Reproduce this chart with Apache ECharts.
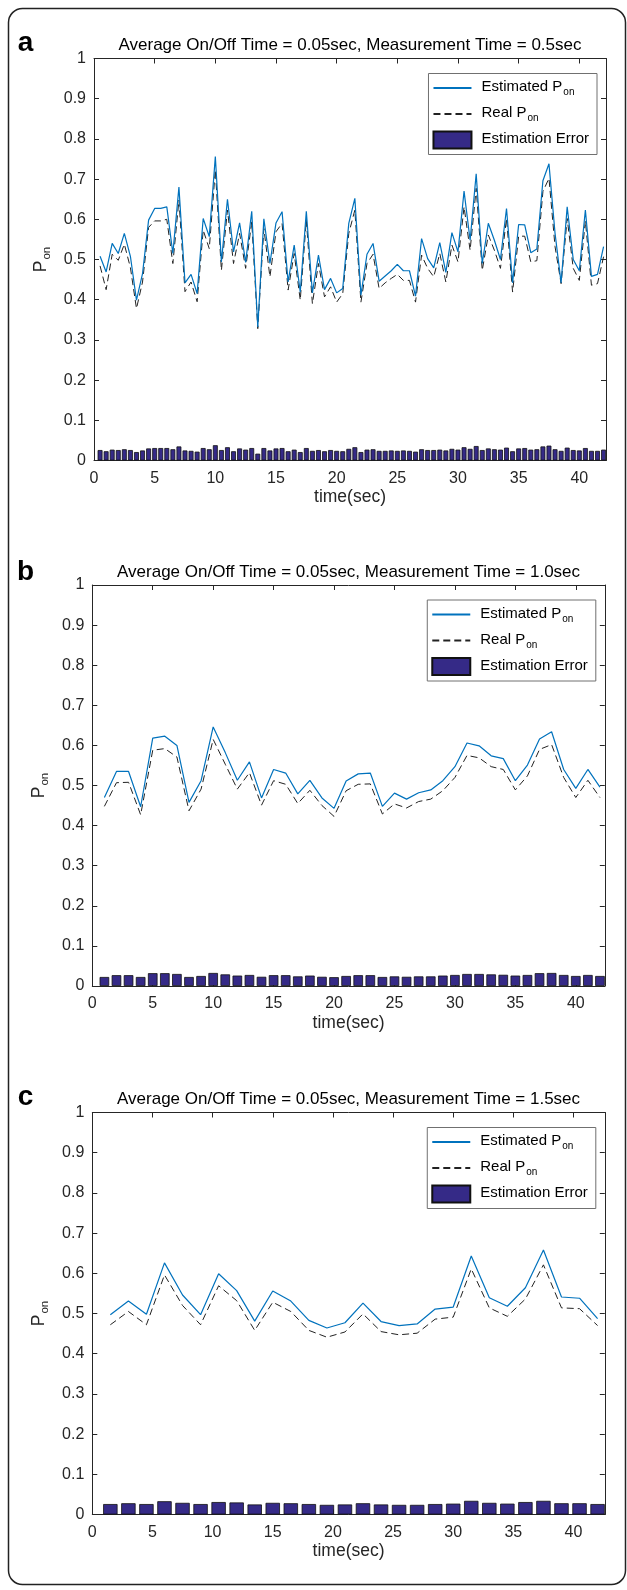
<!DOCTYPE html>
<html>
<head>
<meta charset="utf-8">
<script src="https://cdn.jsdelivr.net/npm/echarts@6/dist/echarts.min.js"></script>
<style>
html, body { margin: 0; padding: 0; background: #fff; }
#chart { width: 627px; height: 1590px; }
</style>
</head>
<body>
<div id="chart"></div>
<script>
// ---- data ----
// panel a : measurement time 0.5 sec
var timeA = [0.5, 1, 1.5, 2, 2.5, 3, 3.5, 4, 4.5, 5, 5.5, 6, 6.5, 7, 7.5, 8, 8.5, 9, 9.5, 10,
    10.5, 11, 11.5, 12, 12.5, 13, 13.5, 14, 14.5, 15, 15.5, 16, 16.5, 17, 17.5, 18, 18.5, 19, 19.5, 20,
    20.5, 21, 21.5, 22, 22.5, 23, 23.5, 24, 24.5, 25, 25.5, 26, 26.5, 27, 27.5, 28, 28.5, 29, 29.5, 30,
    30.5, 31, 31.5, 32, 32.5, 33, 33.5, 34, 34.5, 35, 35.5, 36, 36.5, 37, 37.5, 38, 38.5, 39, 39.5, 40,
    40.5, 41, 41.5, 42];
var estA = [0.508, 0.469, 0.540, 0.515, 0.565, 0.508, 0.399, 0.465, 0.598, 0.627,
    0.627, 0.631, 0.515, 0.680, 0.442, 0.463, 0.415, 0.602, 0.557, 0.756,
    0.494, 0.650, 0.519, 0.591, 0.493, 0.620, 0.332, 0.601, 0.490, 0.591,
    0.619, 0.444, 0.536, 0.419, 0.620, 0.417, 0.511, 0.425, 0.453, 0.417,
    0.428, 0.590, 0.652, 0.411, 0.513, 0.540, 0.446, 0.459, 0.472, 0.488,
    0.472, 0.472, 0.409, 0.552, 0.502, 0.479, 0.542, 0.468, 0.567, 0.519,
    0.670, 0.548, 0.713, 0.490, 0.590, 0.548, 0.500, 0.627, 0.442, 0.587,
    0.586, 0.517, 0.526, 0.696, 0.738, 0.565, 0.442, 0.631, 0.500, 0.472,
    0.623, 0.458, 0.463, 0.532];
var realA = [0.484, 0.425, 0.513, 0.498, 0.538, 0.480, 0.378, 0.444, 0.580, 0.596,
    0.596, 0.600, 0.490, 0.648, 0.420, 0.444, 0.395, 0.573, 0.527, 0.723,
    0.473, 0.623, 0.490, 0.565, 0.478, 0.594, 0.328, 0.577, 0.457, 0.569,
    0.590, 0.424, 0.515, 0.399, 0.598, 0.390, 0.490, 0.407, 0.432, 0.394,
    0.415, 0.565, 0.623, 0.394, 0.490, 0.513, 0.428, 0.442, 0.453, 0.463,
    0.448, 0.448, 0.394, 0.511, 0.478, 0.457, 0.515, 0.444, 0.536, 0.494,
    0.631, 0.523, 0.677, 0.473, 0.561, 0.523, 0.478, 0.602, 0.419, 0.558,
    0.558, 0.494, 0.497, 0.669, 0.702, 0.532, 0.440, 0.602, 0.478, 0.448,
    0.596, 0.436, 0.440, 0.507];
var errA = [0.026, 0.023, 0.027, 0.026, 0.028, 0.026, 0.021, 0.025, 0.030, 0.031,
    0.031, 0.031, 0.028, 0.035, 0.025, 0.024, 0.022, 0.031, 0.028, 0.038,
    0.026, 0.033, 0.023, 0.030, 0.027, 0.031, 0.017, 0.031, 0.025, 0.030,
    0.031, 0.023, 0.027, 0.021, 0.031, 0.024, 0.026, 0.023, 0.026, 0.024,
    0.023, 0.029, 0.033, 0.021, 0.027, 0.028, 0.024, 0.024, 0.025, 0.024,
    0.025, 0.024, 0.022, 0.028, 0.026, 0.026, 0.027, 0.025, 0.029, 0.027,
    0.033, 0.029, 0.036, 0.026, 0.030, 0.028, 0.027, 0.032, 0.023, 0.030,
    0.031, 0.027, 0.028, 0.035, 0.037, 0.028, 0.024, 0.032, 0.026, 0.025,
    0.031, 0.024, 0.024, 0.027];

// panel b : measurement time 1.0 sec
var timeB = [1, 2, 3, 4, 5, 6, 7, 8, 9, 10, 11, 12, 13, 14, 15, 16, 17, 18, 19, 20, 21,
    22, 23, 24, 25, 26, 27, 28, 29, 30, 31, 32, 33, 34, 35, 36, 37, 38, 39, 40, 41, 42];
var estB = [0.470, 0.535, 0.535, 0.447, 0.618, 0.623, 0.600, 0.458, 0.512, 0.646,
    0.582, 0.513, 0.559, 0.469, 0.540, 0.531, 0.479, 0.513, 0.469, 0.443,
    0.511, 0.529, 0.531, 0.448, 0.481, 0.466, 0.482, 0.489, 0.512, 0.547,
    0.606, 0.599, 0.574, 0.567, 0.512, 0.551, 0.616, 0.634, 0.540, 0.493,
    0.540, 0.496];
var realB = [0.448, 0.507, 0.508, 0.427, 0.588, 0.592, 0.571, 0.437, 0.491, 0.615,
    0.553, 0.491, 0.532, 0.451, 0.512, 0.503, 0.455, 0.488, 0.450, 0.423,
    0.487, 0.503, 0.504, 0.429, 0.454, 0.444, 0.460, 0.466, 0.487, 0.520,
    0.575, 0.569, 0.547, 0.540, 0.489, 0.524, 0.590, 0.602, 0.520, 0.470,
    0.513, 0.470];
var errB = [0.0225, 0.027, 0.027, 0.0225, 0.032, 0.032, 0.030, 0.0225, 0.025, 0.0325,
    0.029, 0.026, 0.0275, 0.023, 0.027, 0.027, 0.024, 0.026, 0.023, 0.022,
    0.025, 0.027, 0.027, 0.0225, 0.024, 0.023, 0.024, 0.024, 0.026, 0.0275,
    0.030, 0.030, 0.029, 0.028, 0.026, 0.0275, 0.032, 0.0325, 0.0275, 0.025,
    0.0275, 0.025];

// panel c : measurement time 1.5 sec
var timeC = [1.5, 3, 4.5, 6, 7.5, 9, 10.5, 12, 13.5, 15, 16.5, 18, 19.5, 21,
    22.5, 24, 25.5, 27, 28.5, 30, 31.5, 33, 34.5, 36, 37.5, 39, 40.5, 42];
var estC = [0.497, 0.531, 0.498, 0.626, 0.546, 0.497, 0.599, 0.557, 0.481, 0.556, 0.531, 0.483, 0.464, 0.477,
    0.526, 0.480, 0.470, 0.474, 0.511, 0.516, 0.643, 0.539, 0.518, 0.564, 0.658, 0.541, 0.538, 0.487];
var realC = [0.472, 0.505, 0.472, 0.596, 0.520, 0.472, 0.569, 0.532, 0.458, 0.528, 0.505, 0.458, 0.441, 0.454,
    0.499, 0.455, 0.447, 0.451, 0.486, 0.491, 0.611, 0.514, 0.493, 0.536, 0.621, 0.514, 0.512, 0.470];
var errC = [0.026, 0.028, 0.026, 0.033, 0.029, 0.026, 0.031, 0.030, 0.025, 0.029, 0.028, 0.026, 0.024, 0.025,
    0.028, 0.025, 0.024, 0.024, 0.026, 0.027, 0.034, 0.029, 0.027, 0.031, 0.034, 0.028, 0.028, 0.026];

var xTicks = [0, 5, 10, 15, 20, 25, 30, 35, 40];
var titles = [
    'Average On/Off Time = 0.05sec, Measurement Time = 0.5sec',
    'Average On/Off Time = 0.05sec, Measurement Time = 1.0sec',
    'Average On/Off Time = 0.05sec, Measurement Time = 1.5sec'
];
var letters = ['a', 'b', 'c'];

// ---- layout / style ----
var FONT = '"Liberation Sans", Arial, Helvetica, sans-serif';
var AXIS = '#262626';
var BLUE = '#0072BD';
var NAVY = '#352a87';

var panels = [
    {time: timeA, est: estA, real: realA, err: errA, left: 94, top: 58.5, width: 512, height: 402, xMax: 42.2, barWidth: 4.9},
    {time: timeB, est: estB, real: realB, err: errB, left: 92.3, top: 585, width: 512.5, height: 401, xMax: 42.4, barWidth: 9.6},
    {time: timeC, est: estC, real: realC, err: errC, left: 92.3, top: 1112.5, width: 512.5, height: 402, xMax: 42.6, barWidth: 14.4}
];

var subRich = {
    m: {fontSize: 15, fontFamily: FONT, color: '#000', lineHeight: 17, verticalAlign: 'top', padding: [0, 0, 0, 5]},
    s: {fontSize: 10, fontFamily: FONT, color: '#000', lineHeight: 12, padding: [9, 0, 0, 1]}
};
var ylabRich = {
    m: {fontSize: 17.5, fontFamily: FONT, color: AXIS, lineHeight: 20, verticalAlign: 'top'},
    s: {fontSize: 11.5, fontFamily: FONT, color: AXIS, lineHeight: 13, padding: [10, 0, 0, 1]}
};

function pairs(t, v) {
    var out = [];
    for (var i = 0; i < t.length; i++) out.push([t[i], v[i]]);
    return out;
}

function legend_text(name) {
    if (name === 'Estimated') return '{m|Estimated P}{s|on}';
    if (name === 'Real') return '{m|Real P}{s|on}';
    return '{m|Estimation Error}';
}

var grids = [], xAxes = [], yAxes = [], series = [], legends = [], graphics = [];

graphics.push({
    type: 'rect',
    shape: {x: 8.5, y: 8.5, width: 617, height: 1576, r: 14},
    style: {fill: 'none', stroke: '#222', lineWidth: 1.5},
    silent: true
});

for (var i = 0; i < panels.length; i++) {
    var p = panels[i];
    grids.push({left: p.left, top: p.top, width: p.width, height: p.height, containLabel: false});

    // bottom axis with labels
    xAxes.push({
        gridIndex: i, type: 'value', position: 'bottom', min: 0, max: p.xMax,
        name: 'time(sec)', nameLocation: 'middle', nameGap: 28,
        nameTextStyle: {fontSize: 17.5, fontFamily: FONT, color: AXIS},
        axisLine: {show: true, onZero: false, lineStyle: {color: AXIS, width: 1}},
        axisTick: {show: true, inside: true, length: 5, customValues: xTicks, lineStyle: {color: AXIS}},
        axisLabel: {customValues: xTicks, fontSize: 16, fontFamily: FONT, color: AXIS, margin: 10},
        splitLine: {show: false}
    });
    // top axis: closes the box, ticks only
    xAxes.push({
        gridIndex: i, type: 'value', position: 'top', min: 0, max: p.xMax,
        axisLine: {show: true, onZero: false, lineStyle: {color: AXIS, width: 1}},
        axisTick: {show: true, inside: true, length: 5, customValues: xTicks, lineStyle: {color: AXIS}},
        axisLabel: {show: false},
        splitLine: {show: false}
    });
    yAxes.push({
        gridIndex: i, type: 'value', position: 'left', min: 0, max: 1, interval: 0.1,
        name: '{m|P}{s|on}', nameLocation: 'middle', nameGap: 35, nameRotate: 90,
        nameTextStyle: {rich: ylabRich},
        axisLine: {show: true, onZero: false, lineStyle: {color: AXIS, width: 1}},
        axisTick: {show: true, inside: true, length: 5, lineStyle: {color: AXIS}},
        axisLabel: {fontSize: 16, fontFamily: FONT, color: AXIS, margin: 8},
        splitLine: {show: false}
    });
    yAxes.push({
        gridIndex: i, type: 'value', position: 'right', min: 0, max: 1, interval: 0.1,
        axisLine: {show: true, onZero: false, lineStyle: {color: AXIS, width: 1}},
        axisTick: {show: true, inside: true, length: 5, lineStyle: {color: AXIS}},
        axisLabel: {show: false},
        splitLine: {show: false}
    });

    series.push({
        name: 'Estimation Error', type: 'bar', xAxisIndex: 2 * i, yAxisIndex: 2 * i,
        data: pairs(p.time, p.err), barWidth: p.barWidth,
        itemStyle: {color: NAVY, borderColor: '#111', borderWidth: 0.8}, z: 1
    });
    series.push({
        name: 'Real', type: 'line', xAxisIndex: 2 * i, yAxisIndex: 2 * i,
        data: pairs(p.time, p.real), symbol: 'none',
        lineStyle: {color: '#222', width: 1, type: [7, 4]}, itemStyle: {color: '#222'}, z: 2
    });
    series.push({
        name: 'Estimated', type: 'line', xAxisIndex: 2 * i, yAxisIndex: 2 * i,
        data: pairs(p.time, p.est), symbol: 'none',
        lineStyle: {color: BLUE, width: 1.2}, itemStyle: {color: BLUE}, z: 3
    });

    legends.push({
        data: [
            {name: 'Estimated', itemStyle: {opacity: 0}},
            {name: 'Real', itemStyle: {opacity: 0}},
            {name: 'Estimation Error', icon: 'rect'}
        ],
        orient: 'vertical',
        right: 627 - (p.left + p.width) + 9,
        top: p.top + 15,
        itemWidth: 38, itemHeight: 17, itemGap: 7,
        padding: [5, 8, 5, 4],
        backgroundColor: '#fff',
        borderColor: '#707070', borderWidth: 1,
        selectedMode: false,
        formatter: legend_text,
        textStyle: {fontSize: 15, fontFamily: FONT, color: '#000', rich: subRich}
    });

    graphics.push({
        type: 'text', x: p.left + p.width / 2, y: p.top - 13,
        style: {text: titles[i], font: '17px ' + FONT, fill: '#000', textAlign: 'center', textVerticalAlign: 'middle'},
        silent: true
    });
    graphics.push({
        type: 'text', x: 25.5, y: p.top - 13 + (letters[i] === 'b' ? 0 : -2.5),
        style: {text: letters[i], font: 'bold 28px ' + FONT, fill: '#000', textAlign: 'center', textVerticalAlign: 'middle'},
        silent: true
    });
}

var chart = echarts.init(document.getElementById('chart'), null, {renderer: 'canvas'});
chart.setOption({
    animation: false,
    backgroundColor: '#fff',
    grid: grids,
    xAxis: xAxes,
    yAxis: yAxes,
    legend: legends,
    series: series,
    graphic: graphics
});
</script>
</body>
</html>
